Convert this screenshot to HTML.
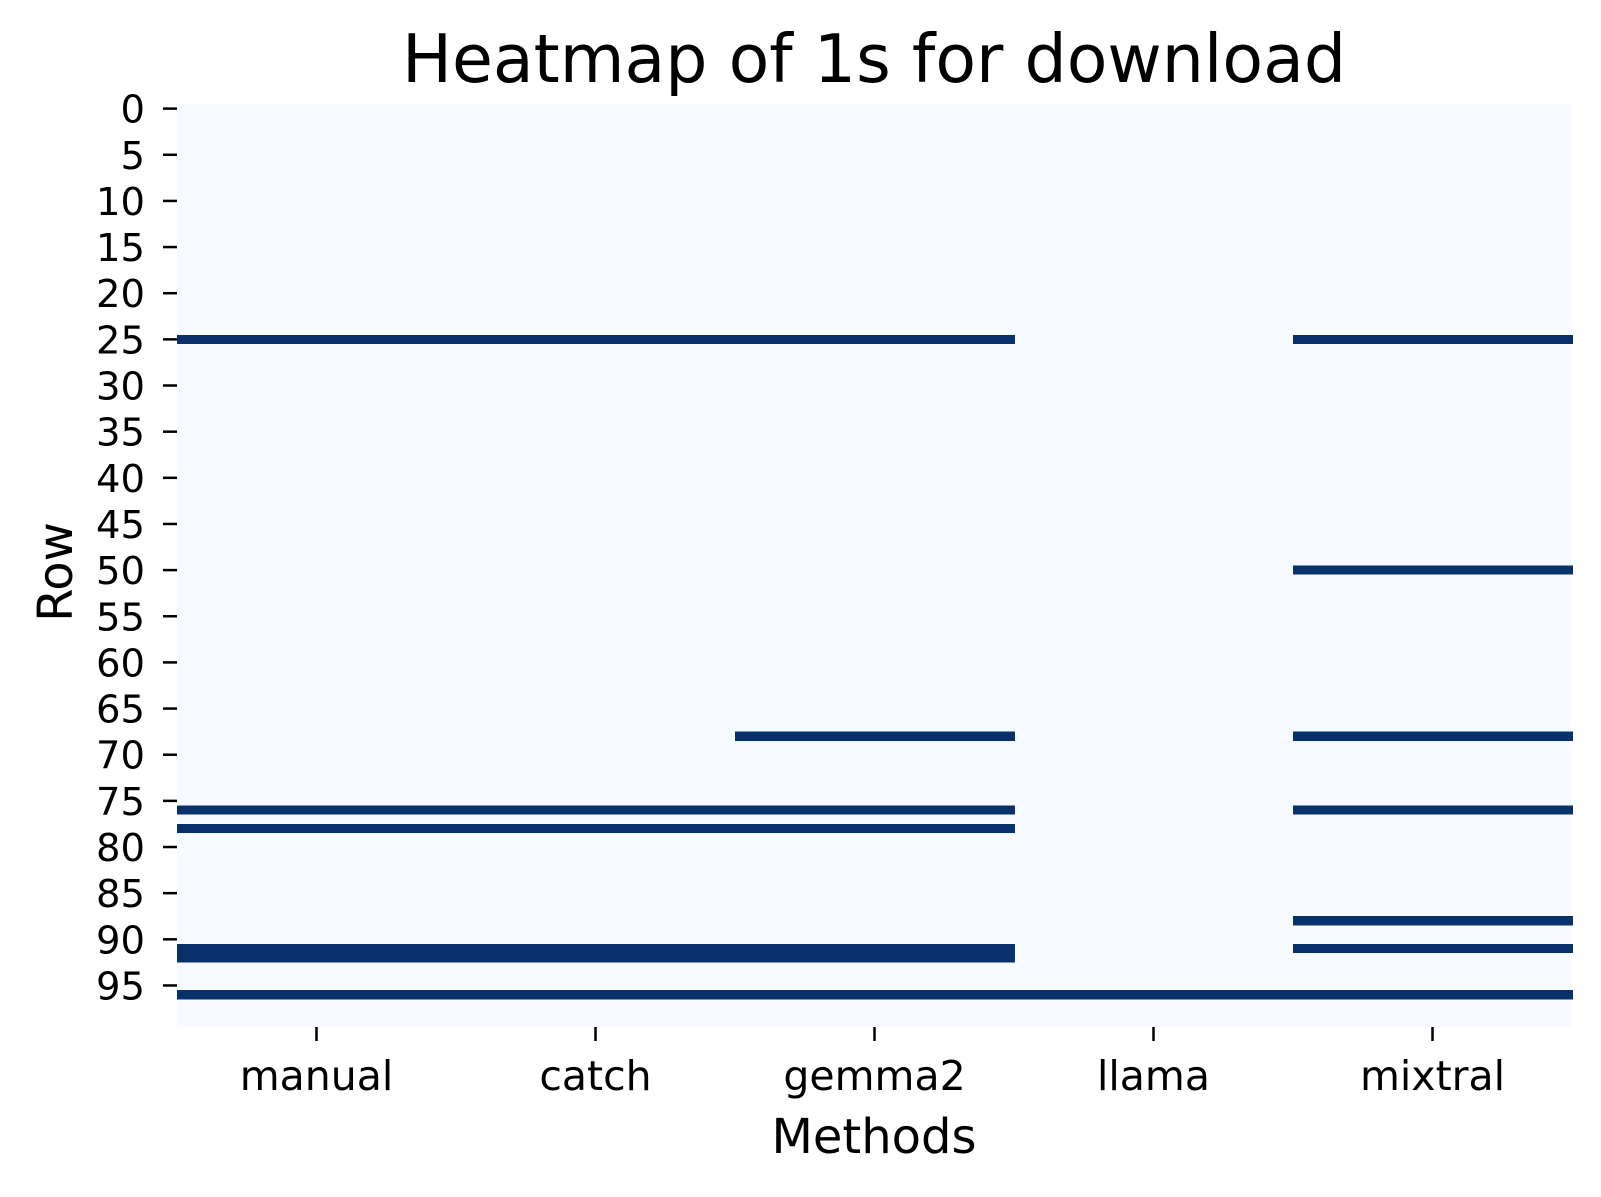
<!DOCTYPE html>
<html><head><meta charset="utf-8"><style>
body{margin:0;background:#fff;}
svg text{font-family:"DejaVu Sans","Liberation Sans",sans-serif;fill:#000;}
</style></head><body>
<svg id="chart" width="1601" height="1192" viewBox="0 0 1601 1192" xmlns="http://www.w3.org/2000/svg">
<text x="874" y="82" font-size="66.5" text-anchor="middle">Heatmap of 1s for download</text>
<rect x="177" y="104" width="1395" height="923" fill="#f7fbff"/>
<g id="cells" shape-rendering="crispEdges"></g><g id="yaxis"></g><g id="xaxis"></g>
<text x="874" y="1153" font-size="48" text-anchor="middle">Methods</text>
<text transform="translate(72,572) rotate(-90)" font-size="48" text-anchor="middle">Row</text>
</svg>
<script>
const methods = ["manual","catch","gemma2","llama","mixtral"];
const numRows = 100;
const onesManual = [25,76,78,91,92,96];
const onesCatch = [25,76,78,91,92,96];
const onesGemma2 = [25,68,76,78,91,92,96];
const onesLlama = [96];
const onesMixtral = [25,50,68,76,88,91,96];
const yTicks = [0,5,10,15,20,25,30,35,40,45,50,55,60,65,70,75,80,85,90,95];
const ones = [onesManual,onesCatch,onesGemma2,onesLlama,onesMixtral];
const NS="http://www.w3.org/2000/svg";
const X0=177,W=1395,Y0=104,H=923;
const cw=W/methods.length, rh=H/numRows;
const xs=i=>X0+i*cw, ys=r=>Y0+r*rh;
const cells=document.getElementById('cells');
ones.forEach((rows,i)=>rows.forEach(r=>{
  const el=document.createElementNS(NS,'rect');
  
  
  el.setAttribute('x',xs(i));el.setAttribute('y',ys(r));
  el.setAttribute('width',cw+1);el.setAttribute('height',rh);
  el.setAttribute('fill','#08306b');cells.appendChild(el);
}));
const ya=document.getElementById('yaxis');
yTicks.forEach(t=>{
  const y=ys(t+0.5);
  const l=document.createElementNS(NS,'line');
  
  
  l.setAttribute('x1',X0-14);l.setAttribute('x2',X0);l.setAttribute('y1',y);l.setAttribute('y2',y);
  l.setAttribute('stroke','#000');l.setAttribute('stroke-width','2.5');ya.appendChild(l);
  const tx=document.createElementNS(NS,'text');
  
  
  tx.setAttribute('x',X0-32);tx.setAttribute('y',y+14);tx.setAttribute('font-size','38.5');
  tx.setAttribute('text-anchor','end');tx.textContent=t;ya.appendChild(tx);
});
const xa=document.getElementById('xaxis');
methods.forEach((m,i)=>{
  const x=xs(i+0.5);
  const l=document.createElementNS(NS,'line');
  
  
  l.setAttribute('x1',x);l.setAttribute('x2',x);l.setAttribute('y1',Y0+H);l.setAttribute('y2',Y0+H+14);
  l.setAttribute('stroke','#000');l.setAttribute('stroke-width','2.5');xa.appendChild(l);
  const tx=document.createElementNS(NS,'text');
  
  
  tx.setAttribute('x',x);tx.setAttribute('y',1090);tx.setAttribute('font-size','41');
  tx.setAttribute('text-anchor','middle');tx.textContent=m;xa.appendChild(tx);
});
</script>
</body></html>
